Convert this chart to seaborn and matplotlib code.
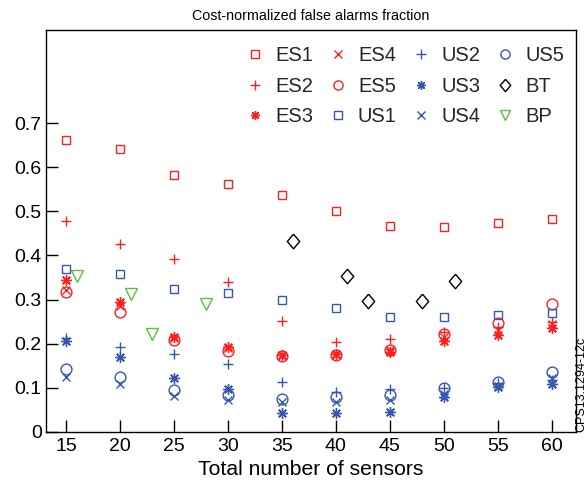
import numpy as np
import pandas as pd
import matplotlib
matplotlib.use("Agg")
import matplotlib.pyplot as plt
import seaborn as sns

# Sensor counts shared by the ES/US series
sensors = [15, 20, 25, 30, 35, 40, 45, 50, 55, 60]

ES1 = [0.662, 0.641, 0.582, 0.562, 0.538, 0.501, 0.467, 0.465, 0.474, 0.483]
ES2 = [0.479, 0.427, 0.391, 0.340, 0.251, 0.205, 0.210, 0.227, 0.239, 0.249]
ES3 = [0.344, 0.294, 0.215, 0.193, 0.174, 0.176, 0.182, 0.207, 0.220, 0.236]
ES4 = [0.322, 0.286, 0.212, 0.190, 0.172, 0.174, 0.186, 0.215, 0.232, 0.244]
ES5 = [0.317, 0.272, 0.209, 0.184, 0.172, 0.175, 0.186, 0.223, 0.248, 0.289]
US1 = [0.369, 0.359, 0.325, 0.314, 0.300, 0.280, 0.261, 0.261, 0.265, 0.270]
US2 = [0.214, 0.193, 0.176, 0.153, 0.114, 0.091, 0.097, 0.100, 0.112, 0.118]
US3 = [0.207, 0.169, 0.122, 0.097, 0.042, 0.042, 0.045, 0.079, 0.102, 0.108]
US4 = [0.125, 0.109, 0.082, 0.072, 0.068, 0.069, 0.072, 0.085, 0.105, 0.122]
US5 = [0.142, 0.124, 0.095, 0.084, 0.075, 0.079, 0.084, 0.099, 0.113, 0.136]

BT_x = [36, 41, 43, 48, 51]
BT = [0.433, 0.353, 0.296, 0.297, 0.342]
BP_x = [16, 21, 23, 28]
BP = [0.354, 0.312, 0.221, 0.289]

x_ticks = [15, 20, 25, 30, 35, 40, 45, 50, 55, 60]
y_ticks = [0, 0.1, 0.2, 0.3, 0.4, 0.5, 0.6, 0.7]
y_tick_labels = ["0", "0.1", "0.2", "0.3", "0.4", "0.5", "0.6", "0.7"]

RED = "#ff1f1f"
BLUE = "#3557b2"
GREEN = "#5cbf3e"
BLACK = "#000000"

asterisk = (8, 2, 0)
diamond = [(0, 1), (0.85, 0), (0, -1), (-0.85, 0), (0, 1)]

# name, x, y, color, marker, markersize
series = [
    ("ES1", sensors, ES1, RED, "s", 6.4),
    ("ES2", sensors, ES2, RED, "+", 7.8),
    ("ES3", sensors, ES3, RED, asterisk, 7.6),
    ("ES4", sensors, ES4, RED, "x", 6.0),
    ("ES5", sensors, ES5, RED, "o", 7.8),
    ("US1", sensors, US1, BLUE, "s", 6.4),
    ("US2", sensors, US2, BLUE, "+", 7.8),
    ("US3", sensors, US3, BLUE, asterisk, 7.6),
    ("US4", sensors, US4, BLUE, "x", 6.0),
    ("US5", sensors, US5, BLUE, "o", 7.8),
    ("BT", BT_x, BT, BLACK, diamond, 10.5),
    ("BP", BP_x, BP, GREEN, "v", 8.0),
]

sns.set_theme(style="white")
plt.rcParams["font.family"] = ["Liberation Sans", "DejaVu Sans"]

fig = plt.figure(figsize=(5.87, 4.84), dpi=100)
ax = fig.add_axes([46 / 587, 52 / 484, 529.5 / 587, 402 / 484])

for name, xs, ys, col, mk, ms in series:
    df = pd.DataFrame({"x": xs, "y": ys})
    sns.lineplot(data=df, x="x", y="y", ax=ax, label=name, color=col,
                 linestyle="none", marker=mk, markersize=ms,
                 markerfacecolor="none", markeredgecolor=col,
                 markeredgewidth=1.0, errorbar=None)

ax.set_xlim(13.15, 62.2)
ax.set_ylim(0, 0.911)
ax.set_xticks(x_ticks)
ax.set_yticks(y_ticks)
ax.set_yticklabels(y_tick_labels)

for sp in ax.spines.values():
    sp.set_visible(True)
    sp.set_color("black")
    sp.set_linewidth(1.0)

ax.tick_params(axis="both", direction="in", length=8.5, width=1.0,
               color="black", labelsize=14, labelcolor="black",
               bottom=True, left=True, top=False, right=False)
ax.tick_params(axis="x", pad=4)
ax.tick_params(axis="y", pad=3)

ax.set_title("Cost-normalized false alarms fraction", fontsize=10.3,
             color="black", pad=7)
ax.set_xlabel("Total number of sensors", fontsize=15.2, color="black",
              labelpad=4)
ax.set_ylabel("")

ax.legend(ncol=4, loc="upper right", bbox_to_anchor=(1.005, 0.995),
          frameon=False, fontsize=14.5, markerscale=0.85,
          handlelength=1.0, handletextpad=0.5, columnspacing=0.72,
          labelspacing=0.58, borderaxespad=0.3)

fig.text(581 / 587, 52 / 484, "CPS13.1294-12c", rotation=90,
         ha="center", va="bottom", fontsize=9, color="black")

fig.savefig("out.png", dpi=100)
